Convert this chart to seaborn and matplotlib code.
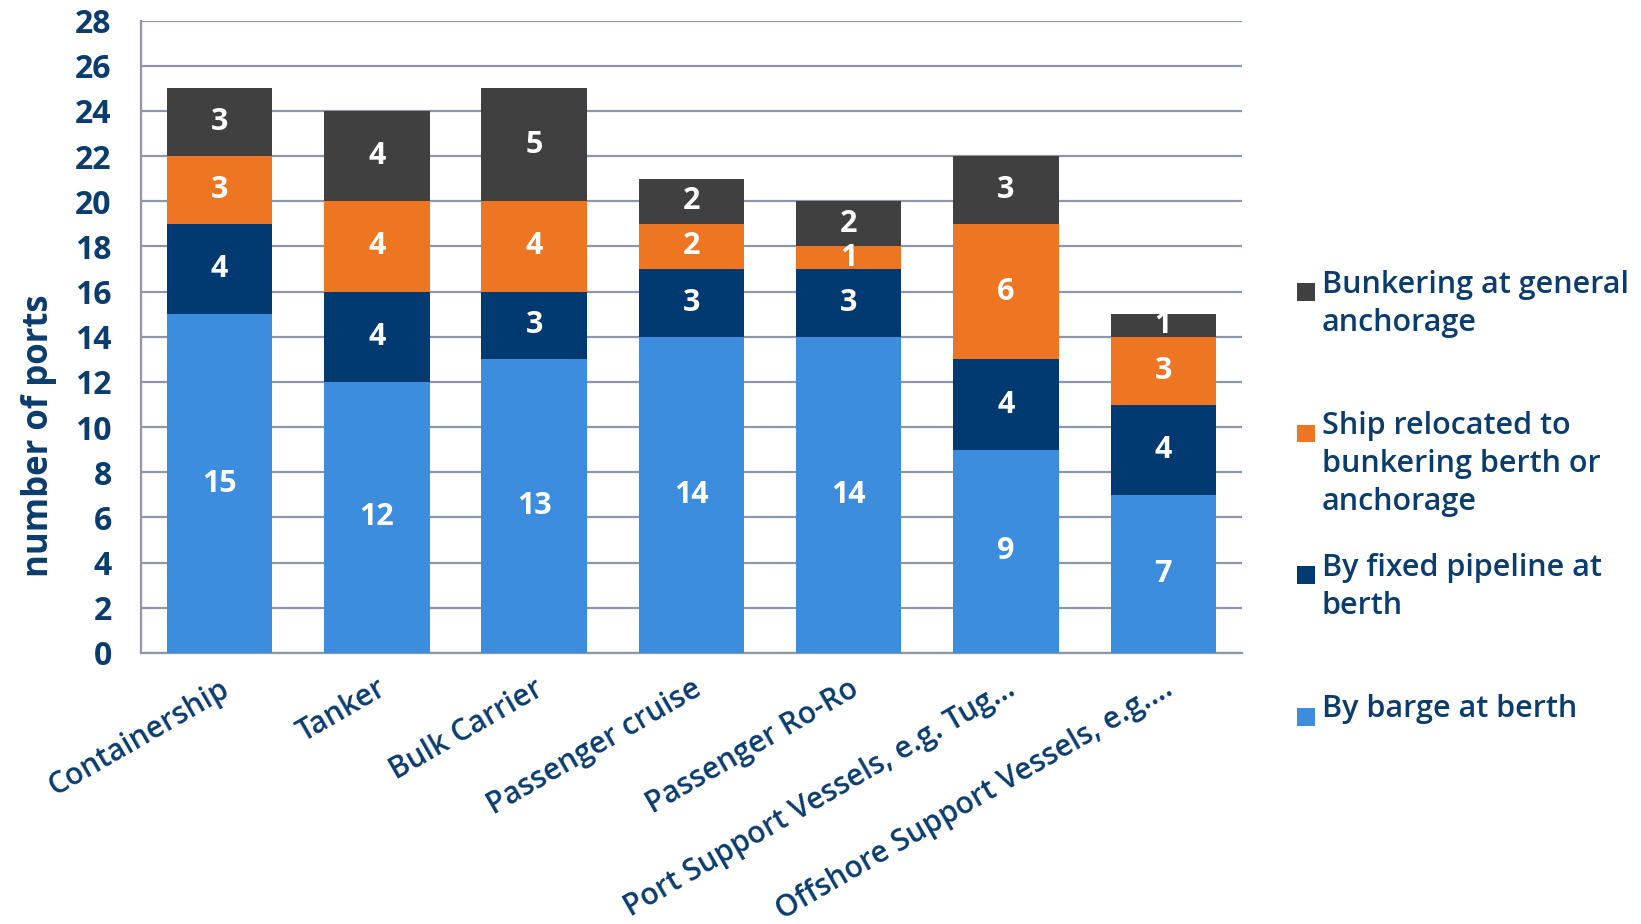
"""Stacked bar chart: bunkering method by vessel type (number of ports)."""

import matplotlib

matplotlib.use("Agg")
import matplotlib.pyplot as plt
import numpy as np
import pandas as pd
import seaborn as sns
from matplotlib.patches import Rectangle

categories = [
    "Containership",
    "Tanker",
    "Bulk Carrier",
    "Passenger cruise",
    "Passenger Ro-Ro",
    "Port Support Vessels, e.g. Tug…",
    "Offshore Support Vessels, e.g.…",
]
barge_at_berth = [15, 12, 13, 14, 14, 9, 7]
fixed_pipeline = [4, 4, 3, 3, 3, 4, 4]
ship_relocated = [3, 4, 4, 2, 1, 6, 3]
general_anchorage = [3, 4, 5, 2, 2, 3, 1]

series_names = [
    "By barge at berth",
    "By fixed pipeline at berth",
    "Ship relocated to bunkering berth or anchorage",
    "Bunkering at general anchorage",
]
legend_labels = [
    "By barge at berth",
    "By fixed pipeline at\nberth",
    "Ship relocated to\nbunkering berth or\nanchorage",
    "Bunkering at general\nanchorage",
]
colors = ["#3C8DDE", "#003A70", "#EE7623", "#404041"]
text_color = "#0B3C6E"
grid_color = "#8E97AA"

sns.set_theme(style="white")
plt.rcParams["font.family"] = ["Open Sans", "DejaVu Sans"]

values = np.array([barge_at_berth, fixed_pipeline, ship_relocated, general_anchorage])
cumulative = values.cumsum(axis=0)

fig = plt.figure(figsize=(16.41, 9.24), dpi=100)
ax = fig.add_axes([0.0859, 0.2933, 0.6709, 0.6845])

# draw tallest cumulative layer first so lower layers sit on top
for idx in range(len(series_names) - 1, -1, -1):
    df = pd.DataFrame({"category": categories, "value": cumulative[idx]})
    sns.barplot(
        data=df,
        x="category",
        y="value",
        order=categories,
        color=colors[idx],
        saturation=1,
        width=0.67,
        linewidth=0,
        ax=ax,
        zorder=3,
    )

for idx in range(len(series_names)):
    for i, cat in enumerate(categories):
        v = values[idx, i]
        base = cumulative[idx, i] - v
        ax.text(
            i,
            base + v / 2,
            f"{v}",
            ha="center",
            va="center",
            color="white",
            fontsize=22,
            fontweight="bold",
            zorder=5,
        )

ax.set_ylim(0, 28)
ax.set_yticks(range(0, 29, 2))
ax.set_xlim(-0.5, len(categories) - 0.5)
ax.yaxis.grid(True, color=grid_color, linewidth=1.6, zorder=0)
ax.set_axisbelow(True)
for side in ["top", "right"]:
    ax.spines[side].set_visible(False)
for side in ["left", "bottom"]:
    ax.spines[side].set_color(grid_color)
    ax.spines[side].set_linewidth(1.6)

ax.tick_params(axis="y", length=0, pad=21, labelsize=23, labelcolor=text_color)
for lbl in ax.get_yticklabels():
    lbl.set_fontweight("bold")
ax.tick_params(axis="x", length=0, pad=15)
ax.set_xticks(range(len(categories)))
ax.set_xticklabels(
    categories,
    rotation=30,
    ha="right",
    rotation_mode="anchor",
    fontsize=21.5,
    fontweight="semibold",
    color=text_color,
)
ax.set_xlabel("")
ax.set_ylabel("number of ports", fontsize=25, fontweight="bold", color=text_color)
ax.yaxis.set_label_coords(-0.076, 0.344)

# legend, entries evenly spaced top to bottom
legend_order = [3, 2, 1, 0]
for k, idx in enumerate(legend_order):
    y_px = 292 + k * 141.5
    y = 1 - y_px / 924
    fig.patches.append(
        Rectangle(
            (1297 / 1641, y - 9 / 924),
            18 / 1641,
            18 / 924,
            transform=fig.transFigure,
            facecolor=colors[idx],
            edgecolor="none",
        )
    )
    fig.text(
        1322 / 1641,
        y + 22 / 924,
        legend_labels[idx],
        ha="left",
        va="top",
        fontsize=22,
        fontweight="semibold",
        color=text_color,
        linespacing=1.33,
    )

fig.savefig("out.png", dpi=100)
